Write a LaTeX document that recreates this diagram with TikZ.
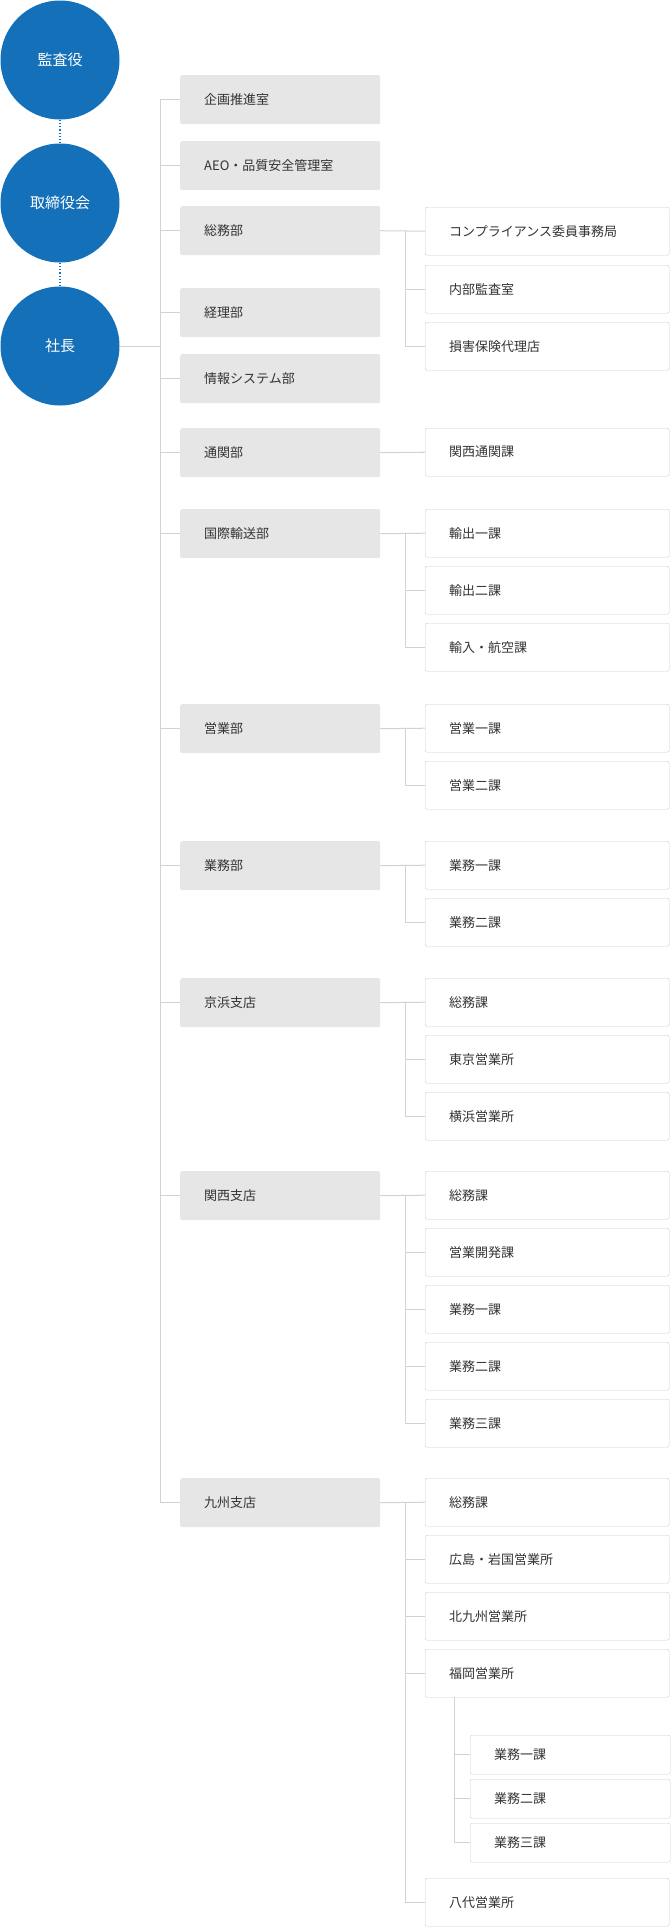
\documentclass[tikz,border=0pt]{standalone}
\usepackage{fontspec}
\setmainfont{Noto Sans CJK JP}
\usetikzlibrary{positioning}
\definecolor{corpblue}{HTML}{1470B8}
\definecolor{boxgray}{HTML}{E6E6E6}
\definecolor{edgegray}{HTML}{CCCCCC}
\definecolor{linegray}{HTML}{D2D2D2}
\definecolor{txtgray}{HTML}{333333}
\tikzset{
  exec/.style={
      circle,
      fill=corpblue,
      minimum size=119pt,
      inner sep=0pt,
      text=white,
      font=\fontsize{15pt}{18pt}\selectfont,
  },
  dept/.style={
      fill=boxgray,
      rounded corners=2pt,
      anchor=north west,
      minimum height=49pt,
      text width=152pt,
      inner xsep=24pt,
      text=txtgray,
      font=\fontsize{13pt}{16pt}\selectfont,
  },
  sect/.style={
      dept,
      fill=white,
      draw=edgegray,
      minimum height=48pt,
      text width=196pt,
  },
  subsect/.style={
      sect,
      minimum height=39pt,
      text width=152pt,
  },
  link/.style={draw=linegray, line width=1pt},
  dotlink/.style={draw=corpblue, line width=1.2pt, dotted}
}
\begin{document}
\begin{tikzpicture}[x=1pt,y=-1pt]
\useasboundingbox (0,0) rectangle (672,1928);
% executives
\node[exec] (audit) at (60,60) {監査役};
\node[exec] (board) at (60,203) {取締役会};
\node[exec] (pres) at (60,346) {社長};
\draw[dotlink] (audit) -- (board);
\draw[dotlink] (board) -- (pres);
% departments
\foreach \n/\y/\t in {g1/75/企画推進室, g2/141/AEO・品質安全管理室, g3/206/総務部,
    g4/288/経理部, g5/354/情報システム部, g6/428/通関部, g7/509/国際輸送部,
    g8/704/営業部, g9/841/業務部, g10/978/京浜支店, g11/1171/関西支店,
    g12/1478/九州支店}
  \node[dept] (\n) at (180,\y) {\t};
\draw[link] (pres.east) -- ++(41,0);
\draw[link] (g1.west) -- ++(-20,0) |- (g12.west);
\foreach \n in {g2,g3,g4,g5,g6,g7,g8,g9,g10,g11}
  \draw[link] (\n.west) -- ++(-20,0);
% sections
\foreach \n/\y/\t in {s31/207/コンプライアンス委員事務局, s32/265/内部監査室, s33/322/損害保険代理店,
    s61/428/関西通関課,
    s71/509/輸出一課, s72/566/輸出二課, s73/623/輸入・航空課,
    s81/704/営業一課, s82/761/営業二課,
    s91/841/業務一課, s92/898/業務二課,
    s101/978/総務課, s102/1035/東京営業所, s103/1092/横浜営業所,
    s111/1171/総務課, s112/1228/営業開発課, s113/1285/業務一課, s114/1342/業務二課, s115/1399/業務三課,
    s121/1478/総務課, s122/1535/広島・岩国営業所, s123/1592/北九州営業所, s124/1649/福岡営業所,
    s125/1878/八代営業所}
  \node[sect] (\n) at (425,\y) {\t};
\foreach \g/\a/\b in {g3/s31/s33, g6/s61/s61, g7/s71/s73, g8/s81/s82,
    g9/s91/s92, g10/s101/s103, g11/s111/s115, g12/s121/s125}{
  \draw[link] (\g.east) -- (\a.west);
  \draw[link] (\a.west) ++(-20,0) |- (\b.west);
}
\foreach \n in {s32,s72,s102,s112,s113,s114,s122,s123,s124}
  \draw[link] (\n.west) -- ++(-20,0);
% Fukuoka units
\foreach \n/\y/\t in {n1/1735/業務一課, n2/1779/業務二課, n3/1823/業務三課}
  \node[subsect] (\n) at (470,\y) {\t};
\draw[link] (s124.south west) ++(29,0) |- (n3.west);
\foreach \n in {n1,n2}
  \draw[link] (\n.west) -- ++(-16,0);
\end{tikzpicture}
\end{document}
